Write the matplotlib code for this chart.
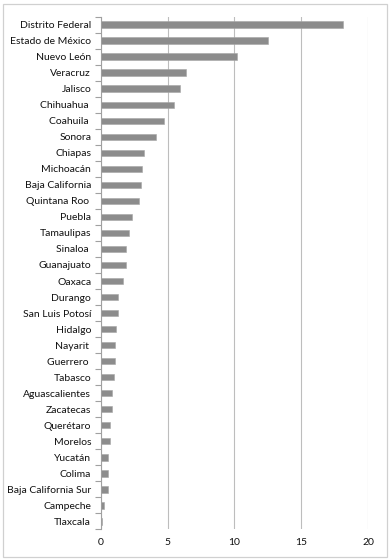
import matplotlib
matplotlib.use("Agg")
import matplotlib.pyplot as plt
from matplotlib.patches import Rectangle
import numpy as np

# states, top to bottom (trailing spaces are in the original labels)
states = ["Distrito Federal", "Estado de México", "Nuevo León", "Veracruz",
          "Jalisco", "Chihuahua ", "Coahuila ", "Sonora", "Chiapas",
          "Michoacán", "Baja California", "Quintana Roo ", "Puebla",
          "Tamaulipas", "Sinaloa ", "Guanajuato", "Oaxaca", "Durango",
          "San Luis Potosí", "Hidalgo", "Nayarit ", "Guerrero ", "Tabasco",
          "Aguascalientes", "Zacatecas", "Querétaro", "Morelos", "Yucatán",
          "Colima", "Baja California Sur", "Campeche", "Tlaxcala"]
values = [18.1, 12.5, 10.2, 6.4, 5.9, 5.5, 4.7, 4.1, 3.25, 3.1, 3.0, 2.85,
          2.3, 2.1, 1.85, 1.85, 1.65, 1.3, 1.3, 1.1, 1.05, 1.05, 0.97, 0.87,
          0.82, 0.72, 0.72, 0.57, 0.52, 0.52, 0.22, 0.1]
xticks = [0, 5, 10, 15, 20]

plt.rcParams['font.family'] = ['Lato', 'DejaVu Sans']

fig = plt.figure(figsize=(3.91, 5.60), dpi=100)
ax = fig.add_axes([0.258, 0.055, 0.683, 0.915])

n = len(states)
ypos = np.arange(n)[::-1]
ax.barh(ypos, values, height=0.42, color='#8c8c8c', edgecolor='#a6a6a6',
        linewidth=0.4, zorder=3)

ax.set_xlim(0, 20)
ax.set_ylim(-0.5, n - 0.5)
ax.set_xticks(xticks)
ax.set_xticklabels([str(t) for t in xticks], fontsize=7.5, color='#111111')
ax.set_yticks(ypos)
ax.set_yticklabels(states, fontsize=7.5, color='#111111')
ax.set_yticks(np.arange(n + 1) - 0.5, minor=True)

ax.tick_params(axis='x', length=0, pad=6)
ax.tick_params(axis='y', which='major', length=0, pad=7)
ax.tick_params(axis='y', which='minor', length=4, width=0.8, color='#a0a0a0',
               direction='out')

ax.grid(axis='x', color='#bdbdbd', linewidth=0.8, zorder=0)
for s in ['top', 'right', 'bottom']:
    ax.spines[s].set_visible(False)
ax.spines['left'].set_color('#a0a0a0')
ax.spines['left'].set_linewidth(0.8)

# light border around the whole chart
fig.patches.append(Rectangle((3 / 391, 3 / 560), 384 / 391, 553 / 560,
                             transform=fig.transFigure, fill=False,
                             edgecolor='#d0d0d0', linewidth=0.9))

fig.savefig("out.png", dpi=100)
